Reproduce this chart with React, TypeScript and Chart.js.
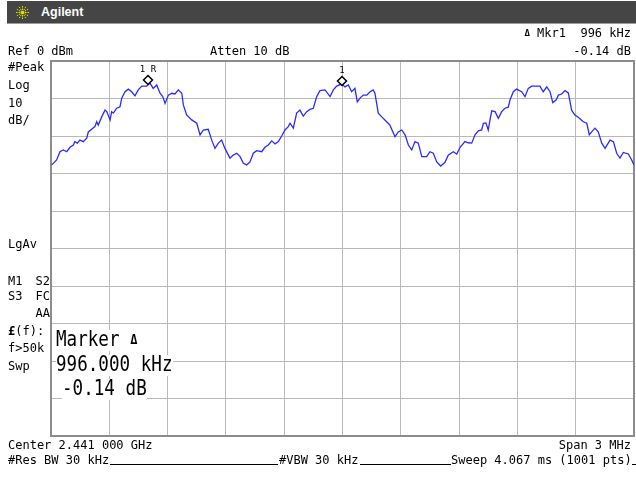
import React, { useEffect, useRef } from "react";
import { Chart, registerables } from "chart.js";

Chart.register(...registerables);

// Frequency offset from centre (kHz) and trace level (dBm)
const freqOffsetKHz = [
  -1496, -1471, -1454, -1437, -1419, -1402, -1385, -1377, -1365, -1351,
  -1334, -1316, -1308, -1291, -1274, -1265, -1257, -1239, -1222, -1213,
  -1196, -1188, -1179, -1162, -1145, -1136, -1119, -1102, -1085, -1068,
  -1051, -1033, -1008, -991, -974, -956, -939, -925, -913, -896,
  -879, -862, -845, -827, -819, -802, -776, -750, -733, -716,
  -691, -673, -656, -639, -622, -605, -579, -562, -544, -527,
  -510, -493,
  -476, -459, -442, -416, -399, -382, -364, -347, -330, -313,
  -296, -279, -270, -253, -236, -219, -202, -184, -167, -150,
  -133, -116, -90, -64, -47, -30, -4, 13, 30, 47,
  64, 76, 90, 107, 125, 142, 158, 167, 184, 202,
  227, 244, 270, 287, 305, 322, 339, 356, 373, 390,
  408, 433, 450, 467, 485, 505, 527, 544, 570, 588,
  605, 630, 647,
  665, 682, 699, 716, 725, 738, 750, 759, 768, 785,
  802, 819, 836, 853, 862, 879, 896, 922, 939, 956,
  974, 999, 1016, 1033, 1051, 1068, 1082, 1099, 1111, 1128,
  1145, 1162, 1179, 1196, 1213, 1239, 1257, 1270, 1282, 1299,
  1316, 1334, 1351, 1377, 1394, 1411, 1428, 1445, 1471, 1488,
  1500,
];

const levelDbm = [
  -27.7, -26.4, -24.2, -23.7, -24.2, -23.0, -22.4, -21.5, -21.9, -21.1,
  -21.5, -20.6, -18.9, -18.2, -17.5, -16.2, -17.1, -14.9, -13.1, -13.5,
  -15.7, -13.5, -13.9, -12.6, -12.2, -9.9, -8.2, -7.5, -8.2, -9.3,
  -7.7, -6.7, -6.7, -5.9, -7.3, -6.4, -8.6, -9.5, -11.3, -9.1,
  -8.6, -8.8, -7.7, -8.6, -11.7, -14.4, -15.7, -16.6, -19.7, -18.4,
  -18.2, -21.1, -23.3, -21.9, -21.1, -23.3, -25.9, -25.1, -24.6, -25.5,
  -27.3, -27.7,
  -26.9, -24.6, -23.9, -24.2, -23.0, -22.4, -21.3, -22.1, -21.5, -20.0,
  -18.4, -17.5, -16.6, -17.9, -13.9, -13.1, -14.7, -13.5, -12.9, -12.6,
  -9.5, -7.9, -7.7, -9.5, -7.7, -6.7, -6.1, -6.9, -6.4, -8.2,
  -7.3, -10.9, -9.9, -9.1, -9.1, -8.2, -7.7, -8.6, -13.9, -14.9,
  -16.2, -17.1, -20.2, -18.9, -18.4, -19.7, -22.4, -23.7, -21.5, -21.9,
  -25.5, -25.5, -24.2, -24.6, -26.9, -28.0, -27.1, -25.1, -24.2, -24.8,
  -23.0, -21.5, -21.8,
  -21.9, -19.7, -18.6, -18.4, -16.6, -16.5, -18.4, -15.7, -13.3, -13.5,
  -15.3, -13.5, -12.6, -12.3, -10.4, -8.2, -7.5, -8.2, -9.5, -7.3,
  -6.7, -6.7, -6.7, -8.2, -6.9, -8.2, -11.1, -10.4, -9.1, -8.8,
  -7.9, -8.5, -13.1, -14.4, -15.0, -16.2, -16.6, -19.7, -18.9, -17.9,
  -18.9, -21.9, -23.3, -21.1, -21.5, -24.6, -25.9, -24.4, -24.8, -26.4,
  -27.7,
];

// Markers
const markerFreqKHz = [-1000, -4];
const markerLevelDbm = [-6.2, -6.34];
const markerLabels = ["1R", "1"];

// Axis settings (span 3 MHz, 10 dB/div, ref 0 dBm)
const spanKHz = [-1500, 1500];
const freqDivKHz = 300;
const refLevelDbm = 0;
const dbPerDiv = 10;
const numDivs = 10;

const MONO = '"DejaVu Sans Mono", "Liberation Mono", monospace';

const markerPlugin = {
  id: "saMarkers",
  beforeDatasetsDraw(chart: any) {
    const { ctx, chartArea } = chart;
    ctx.save();
    ctx.strokeStyle = "#8c8c8c";
    ctx.lineWidth = 2;
    ctx.strokeRect(
      chartArea.left,
      chartArea.top,
      chartArea.right - chartArea.left,
      chartArea.bottom - chartArea.top
    );
    ctx.restore();
  },
  afterDatasetsDraw(chart: any) {
    const { ctx } = chart;
    const xs = chart.scales.x;
    const ys = chart.scales.y;
    ctx.save();
    markerFreqKHz.forEach((f, i) => {
      const px = Math.round(xs.getPixelForValue(f));
      const py = Math.round(ys.getPixelForValue(markerLevelDbm[i])) - 4;
      const r = 4.5;
      ctx.beginPath();
      ctx.moveTo(px, py - r);
      ctx.lineTo(px + r, py);
      ctx.lineTo(px, py + r);
      ctx.lineTo(px - r, py);
      ctx.closePath();
      ctx.fillStyle = "#ffffff";
      ctx.fill();
      ctx.strokeStyle = "#000000";
      ctx.lineWidth = 1.5;
      ctx.stroke();
      ctx.fillStyle = "#000000";
      ctx.font = `9px ${MONO}`;
      ctx.textAlign = "center";
      ctx.textBaseline = "alphabetic";
      const lbl = markerLabels[i].split("").join(" ");
      ctx.fillText(lbl, px, py - 8);
    });
    ctx.restore();
  },
};

function T(props: {
  x: number;
  y: number;
  right?: boolean;
  size?: number;
  bold?: boolean;
  bg?: boolean;
  sy?: number;
  children: React.ReactNode;
}) {
  const { x, y, right, size = 12, bold, bg, sy, children } = props;
  const style: React.CSSProperties = {
    position: "absolute",
    top: y,
    fontFamily: MONO,
    fontSize: size,
    lineHeight: `${size}px`,
    whiteSpace: "pre",
    color: "#000",
    fontWeight: bold ? "bold" : "normal",
    background: bg ? "#fff" : "transparent",
    transform: sy ? `scaleY(${sy})` : undefined,
    transformOrigin: "top left",
  };
  if (right) style.right = 636 - x;
  else style.left = x;
  return <div style={style}>{children}</div>;
}

function Line(props: { x1: number; x2: number; y: number }) {
  return (
    <div
      style={{
        position: "absolute",
        left: props.x1,
        top: props.y,
        width: props.x2 - props.x1,
        height: 1,
        background: "#000",
      }}
    />
  );
}

export default function App() {
  const canvasRef = useRef<HTMLCanvasElement | null>(null);

  useEffect(() => {
    document.body.style.margin = "0";
    const canvas = canvasRef.current;
    if (!canvas) return;
    const chart = new Chart(canvas, {
      type: "line",
      data: {
        datasets: [
          {
            data: freqOffsetKHz.map((f, i) => ({ x: f, y: levelDbm[i] })),
            borderColor: "#2a2aff",
            borderWidth: 1.3,
            pointRadius: 0,
            tension: 0,
            fill: false,
          },
        ],
      },
      options: {
        animation: false,
        responsive: false,
        maintainAspectRatio: false,
        events: [],
        layout: { padding: { left: 51, top: 61, right: 2, bottom: 44 } },
        plugins: { legend: { display: false }, tooltip: { enabled: false } },
        scales: {
          x: {
            type: "linear",
            min: spanKHz[0],
            max: spanKHz[1],
            ticks: { display: false, stepSize: freqDivKHz },
            grid: { color: "#b9b9b9", lineWidth: 1, drawTicks: false, tickLength: 0 },
            border: { display: false },
          },
          y: {
            type: "linear",
            min: refLevelDbm - dbPerDiv * numDivs,
            max: refLevelDbm,
            ticks: { display: false, stepSize: dbPerDiv },
            grid: { color: "#b9b9b9", lineWidth: 1, drawTicks: false, tickLength: 0 },
            border: { display: false },
          },
        },
      },
      plugins: [markerPlugin],
    });
    return () => chart.destroy();
  }, []);

  const sunRays = Array.from({ length: 12 }, (_, i) => (i * Math.PI) / 6);

  return (
    <div style={{ position: "relative", width: 636, height: 480, background: "#fff", overflow: "hidden" }}>
      {/* title bar */}
      <div style={{ position: "absolute", left: 7, top: 1, width: 629, height: 22, background: "#454545" }} />
      <div style={{ position: "absolute", left: 7, top: 23, width: 629, height: 1, background: "#9a9a9a" }} />
      <svg style={{ position: "absolute", left: 14, top: 4 }} width={17} height={17} viewBox="-8.5 -8.5 17 17">
        {sunRays.map((a, i) => (
          <line
            key={i}
            x1={Math.cos(a) * 2.5}
            y1={Math.sin(a) * 2.5}
            x2={Math.cos(a) * 7.5}
            y2={Math.sin(a) * 7.5}
            stroke="#e4e400"
            strokeWidth={1}
            strokeDasharray="1.5 1"
          />
        ))}
        <circle cx={0} cy={0} r={1.8} fill="#e4e400" />
      </svg>
      <div
        style={{
          position: "absolute",
          left: 41,
          top: 5,
          fontFamily: '"Liberation Sans", Arial, sans-serif',
          fontWeight: "bold",
          fontSize: 12.5,
          lineHeight: "14px",
          color: "#fff",
        }}
      >
        Agilent
      </div>

      <canvas ref={canvasRef} width={636} height={480} style={{ position: "absolute", left: 0, top: 0 }} />

      {/* header */}
      <T x={631} y={27} right>
        <span style={{ fontSize: 9, fontWeight: "bold", verticalAlign: "1px" }}>Δ</span>
        {" Mkr1  996 kHz"}
      </T>
      <T x={8} y={45}>Ref 0 dBm</T>
      <T x={210} y={45}>Atten 10 dB</T>
      <T x={631} y={45} right>-0.14 dB</T>

      {/* left annotations */}
      <T x={8} y={61}>#Peak</T>
      <T x={8} y={79}>Log</T>
      <T x={8} y={97}>10</T>
      <T x={8} y={114}>dB/</T>
      <T x={8} y={238}>LgAv</T>
      <T x={8} y={275}>M1</T>
      <T x={50} y={275} right>S2</T>
      <T x={8} y={290}>S3</T>
      <T x={50} y={290} right>FC</T>
      <T x={50} y={307} right>AA</T>
      <T x={8} y={325}>
        <b>£</b>(f):
      </T>
      <T x={8} y={342}>f&gt;50k</T>
      <T x={8} y={360}>Swp</T>

      {/* marker readout */}
      <T x={56} y={330} size={17.6} sy={1.17} bg>
        {"Marker "}
        <span style={{ fontSize: 12, fontWeight: "bold", verticalAlign: "2px" }}>Δ</span>
      </T>
      <T x={56} y={355} size={17.6} sy={1.17} bg>996.000 kHz</T>
      <T x={62} y={379} size={17.6} sy={1.17} bg>-0.14 dB</T>

      {/* footer */}
      <T x={8} y={439}>Center 2.441 000 GHz</T>
      <T x={631} y={439} right>Span 3 MHz</T>
      <T x={8} y={454}>#Res BW 30 kHz</T>
      <Line x1={110} x2={278} y={464} />
      <T x={279} y={454}>#VBW 30 kHz</T>
      <Line x1={360} x2={451} y={464} />
      <T x={451} y={454}>Sweep 4.067 ms (1001 pts)</T>
      <Line x1={632} x2={636} y={464} />
    </div>
  );
}
